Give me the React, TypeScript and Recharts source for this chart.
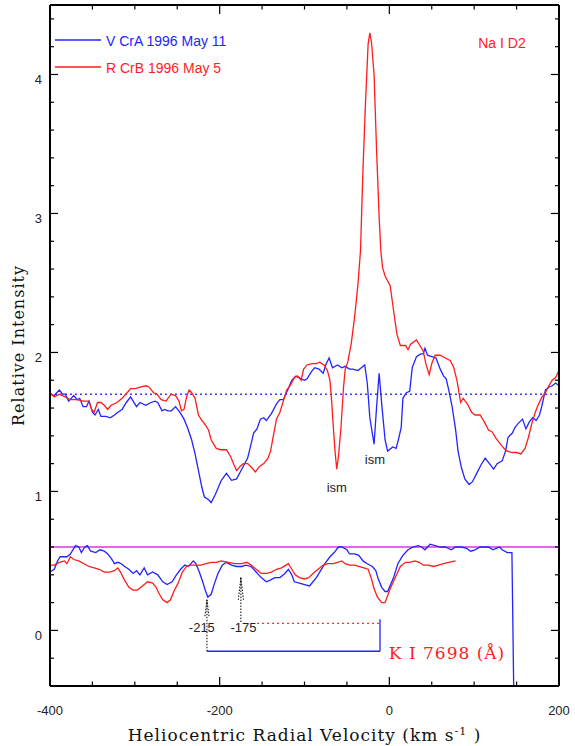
import React from 'react';
import {
  LineChart, Line, XAxis, YAxis, ReferenceLine, ReferenceDot, Legend,
} from 'recharts';

// ---------- data ----------
// Na I D2, V CrA 1996 May 11 (blue)
const naVCrAVel = [-400,-395,-389,-385,-382,-378,-372,-368,-365,-361,-357,-354,-350,-347,-343,-340,-334,-329,-324,-320,-315,-310,-305,-302,-298,-294,-287,-281,-276,-273,-268,-265,-261,-257,-252,-247,-242,-238,-233,-229,-225,-221,-218,-213,-210,-205,-198,-192,-186,-180,-174,-167,-163,-160,-156,-152,-148,-145,-139,-133,-129,-125,-119,-115,-110,-104,-100,-97,-92,-88,-83,-78,-75,-71,-67,-61,-56,-52,-47,-43,-37,-33,-29,-26,-23,-18,-15,-12,-9,-5,-2,4,8,11,14,16,20,24,27,32,37,40,42,45,50,55,60,64,67,70,74,78,81,85,89,94,98,103,108,113,118,123,127,133,137,140,145,148,152,157,161,165,169,173,177,180,184,188,192,196,200];
const naVCrAInt = [1.70,1.69,1.73,1.70,1.70,1.65,1.69,1.66,1.67,1.61,1.61,1.65,1.57,1.55,1.59,1.54,1.54,1.53,1.55,1.57,1.59,1.64,1.68,1.65,1.61,1.64,1.62,1.64,1.65,1.64,1.58,1.59,1.58,1.58,1.61,1.57,1.52,1.46,1.37,1.27,1.15,1.03,0.96,0.94,0.92,0.98,1.08,1.13,1.08,1.09,1.16,1.24,1.34,1.42,1.45,1.52,1.53,1.51,1.56,1.63,1.66,1.66,1.74,1.80,1.83,1.81,1.80,1.81,1.86,1.89,1.88,1.85,1.91,1.96,1.89,1.91,1.89,1.90,1.88,1.88,1.87,1.89,1.91,1.78,1.53,1.34,1.61,1.85,1.63,1.37,1.29,1.32,1.31,1.38,1.46,1.67,1.71,1.72,1.89,1.97,1.99,1.99,2.03,1.98,1.97,1.96,1.88,1.83,1.81,1.73,1.61,1.45,1.29,1.17,1.09,1.05,1.07,1.13,1.19,1.24,1.20,1.16,1.20,1.22,1.29,1.39,1.42,1.46,1.49,1.52,1.45,1.50,1.53,1.51,1.55,1.62,1.73,1.75,1.76,1.78,1.76];

// Na I D2, R CrB 1996 May 5 (red)
const naRCrBVel = [-400,-395,-389,-382,-376,-368,-361,-354,-351,-348,-344,-340,-336,-332,-328,-321,-315,-309,-305,-299,-294,-287,-283,-278,-274,-269,-263,-261,-257,-252,-248,-245,-242,-239,-236,-233,-229,-225,-221,-218,-213,-210,-204,-199,-192,-187,-183,-180,-176,-172,-167,-162,-158,-153,-148,-143,-140,-137,-133,-129,-125,-121,-116,-112,-108,-104,-101,-97,-91,-86,-82,-77,-73,-70,-68,-66,-64,-62,-60,-57,-54,-52,-49,-45,-41,-37,-34,-31,-28,-25,-23,-21,-18,-15,-12,-10,-8,-5,1,5,9,13,19,22,25,32,36,40,43,47,50,54,60,66,72,76,80,84,87,92,97,101,107,112,117,121,126,131,135,139,145,150,155,160,164,168,172,176,180,184,188,192,196,200];
const naRCrBInt = [1.71,1.68,1.70,1.68,1.66,1.66,1.65,1.65,1.59,1.57,1.64,1.64,1.62,1.59,1.62,1.64,1.67,1.71,1.74,1.74,1.75,1.76,1.75,1.71,1.70,1.66,1.65,1.67,1.70,1.69,1.65,1.58,1.59,1.68,1.73,1.71,1.67,1.55,1.51,1.49,1.44,1.37,1.31,1.30,1.30,1.25,1.19,1.15,1.18,1.20,1.20,1.17,1.14,1.18,1.20,1.24,1.29,1.39,1.52,1.57,1.65,1.73,1.77,1.82,1.83,1.80,1.88,1.91,1.92,1.92,1.93,1.91,1.87,1.80,1.65,1.46,1.29,1.16,1.25,1.46,1.75,1.88,1.93,2.06,2.25,2.49,2.73,3.33,3.81,4.22,4.30,4.23,4.00,3.45,2.97,2.73,2.61,2.55,2.48,2.30,2.13,2.05,2.05,2.02,2.06,2.09,2.05,2.01,1.92,1.84,1.92,1.98,1.98,1.96,1.94,1.89,1.79,1.64,1.67,1.63,1.57,1.55,1.55,1.50,1.44,1.43,1.38,1.34,1.31,1.29,1.28,1.28,1.27,1.31,1.39,1.49,1.57,1.63,1.68,1.71,1.76,1.80,1.82,1.87];

// K I 7698, V CrA (blue)
const kVCrAVel = [-400,-395,-391,-388,-380,-376,-370,-366,-363,-359,-356,-352,-346,-341,-336,-332,-328,-324,-320,-316,-312,-307,-302,-298,-294,-289,-285,-279,-273,-267,-262,-256,-251,-246,-241,-237,-231,-228,-224,-220,-217,-214,-210,-206,-202,-197,-192,-186,-180,-174,-169,-163,-157,-151,-145,-141,-135,-129,-123,-119,-115,-112,-106,-100,-94,-90,-86,-81,-76,-70,-65,-60,-56,-50,-47,-41,-36,-31,-26,-20,-16,-13,-9,-5,-2,5,10,16,22,28,34,38,42,48,54,60,66,73,78,85,91,96,101,107,113,117,122,126,130,133,139,144.5,147];
const kVCrAInt = [0.42,0.44,0.50,0.53,0.53,0.55,0.61,0.60,0.56,0.60,0.61,0.57,0.56,0.58,0.57,0.55,0.52,0.48,0.49,0.48,0.46,0.44,0.41,0.43,0.40,0.45,0.40,0.42,0.40,0.35,0.33,0.35,0.40,0.44,0.47,0.46,0.50,0.48,0.42,0.35,0.29,0.24,0.26,0.34,0.41,0.47,0.49,0.47,0.46,0.46,0.47,0.46,0.42,0.38,0.35,0.36,0.38,0.38,0.41,0.44,0.40,0.35,0.34,0.33,0.32,0.35,0.38,0.43,0.48,0.53,0.56,0.60,0.60,0.58,0.55,0.55,0.54,0.50,0.48,0.46,0.43,0.37,0.31,0.28,0.28,0.38,0.48,0.54,0.58,0.60,0.61,0.60,0.58,0.62,0.61,0.60,0.60,0.58,0.60,0.60,0.59,0.57,0.58,0.60,0.60,0.60,0.58,0.59,0.60,0.58,0.56,0.56,-0.6];

// K I 7698, R CrB (red)
const kRCrBVel = [-400,-395,-389,-383,-380,-376,-372,-366,-360,-354,-348,-342,-336,-330,-324,-320,-317,-312,-307,-302,-297,-291,-285,-279,-275,-271,-267,-262,-258,-254,-249,-244,-239,-234,-228,-222,-216,-210,-204,-198,-190,-182,-174,-168,-163,-157,-151,-145,-139,-133,-127,-122,-119,-115,-111,-106,-100,-95,-90,-84,-78,-72,-66,-61,-56,-52,-47,-41,-36,-30,-25,-21,-18,-14,-9,-5,1,7,13,19,24,30,35,40,46,52,58,64,70,78];
const kRCrBInt = [0.47,0.47,0.49,0.50,0.48,0.53,0.51,0.50,0.48,0.46,0.45,0.44,0.42,0.42,0.43,0.45,0.42,0.36,0.31,0.29,0.29,0.32,0.35,0.34,0.31,0.26,0.22,0.20,0.22,0.28,0.34,0.42,0.46,0.47,0.47,0.47,0.48,0.49,0.49,0.50,0.49,0.48,0.48,0.49,0.47,0.44,0.41,0.41,0.42,0.44,0.45,0.47,0.48,0.44,0.40,0.38,0.37,0.38,0.41,0.44,0.47,0.48,0.48,0.49,0.50,0.48,0.47,0.47,0.46,0.45,0.44,0.37,0.30,0.24,0.20,0.20,0.30,0.38,0.46,0.49,0.49,0.50,0.49,0.47,0.47,0.46,0.47,0.48,0.49,0.50];

// axes
const xTicks = [-400,-350,-300,-250,-200,-150,-100,-50,0,50,100,150,200];
const xMajor = [-400,-200,0,200];
const yTicks = Array.from({ length: 25 }, (_, i) => (i - 2) / 5);
const yLabels = [0,1,2,3,4];

const BLUE = '#2323ff';
const RED = '#ff1c1c';
const MAGENTA = '#e466ea';

const legendItems = [
  { name: 'V CrA 1996 May 11', color: BLUE },
  { name: 'R CrB 1996 May 5', color: RED },
];

const zip = (v: number[], y: number[]) => v.map((x, i) => ({ v: x, i: y[i] }));
const naVCrA = zip(naVCrAVel, naVCrAInt);
const naRCrB = zip(naRCrBVel, naRCrBInt);
const kVCrA = zip(kVCrAVel, kVCrAInt);
const kRCrB = zip(kRCrBVel, kRCrBInt);

const SANS = 'Liberation Sans, Arial, Helvetica, sans-serif';
const SERIF = 'DejaVu Serif, serif';

const near = (a: number, list: number[]) => list.some((b) => Math.abs(a - b) < 1e-6);

function BottomTick(p: any) {
  const { x, y, payload } = p;
  const major = near(payload.value, xMajor);
  return (
    <g>
      <line x1={x} x2={x} y1={y} y2={y - (major ? 9 : 4.5)} stroke="#000" strokeWidth={1.2} />
      {major && (
        <text x={x} y={y + 29} textAnchor="middle" fontSize={13} fill="#222" fontFamily={SANS}>
          {String(payload.value)}
        </text>
      )}
    </g>
  );
}
function TopTick(p: any) {
  const { x, y, payload } = p;
  const major = near(payload.value, xMajor);
  return <line x1={x} x2={x} y1={y} y2={y + (major ? 9 : 4.5)} stroke="#000" strokeWidth={1.2} />;
}
function LeftTick(p: any) {
  const { x, y, payload } = p;
  const major = near(payload.value, yLabels);
  return (
    <g>
      <line x1={x} x2={x + (major ? 8 : 4)} y1={y} y2={y} stroke="#000" strokeWidth={1.2} />
      {major && (
        <text x={x - 8} y={y + 10} textAnchor="end" fontSize={13} fill="#222" fontFamily={SANS}>
          {String(Math.round(payload.value))}
        </text>
      )}
    </g>
  );
}
function RightTick(p: any) {
  const { x, y, payload } = p;
  const major = near(payload.value, yLabels);
  return <line x1={x} x2={x - (major ? 8 : 4)} y1={y} y2={y} stroke="#000" strokeWidth={1.2} />;
}

function XLabel(p: any) {
  const vb = p.viewBox;
  return (
    <text x={vb.x + vb.width / 2} y={vb.y + 55} textAnchor="middle" fontSize={17} fill="#111"
      fontFamily={SERIF} letterSpacing={1}>
      Heliocentric Radial Velocity (km s<tspan dy={-6} fontSize={11}>-1</tspan><tspan dy={6}> )</tspan>
    </text>
  );
}
function YLabel(p: any) {
  const vb = p.viewBox;
  const cx = vb.x + vb.width - 32;
  const cy = vb.y + vb.height / 2;
  return (
    <text x={cx} y={cy} transform={`rotate(-90 ${cx} ${cy})`} textAnchor="middle" dominantBaseline="central"
      fontSize={16} fill="#111" fontFamily={SERIF} letterSpacing={1}>
      Relative Intensity
    </text>
  );
}

const annotations = [
  { x: -62, y: 1.03, text: 'ism', color: '#222', size: 13, font: SANS, spacing: 0 },
  { x: -17, y: 1.23, text: 'ism', color: '#222', size: 13, font: SANS, spacing: 0 },
  { x: 132.8, y: 4.225, text: 'Na I D2', color: RED, size: 14, font: SANS, spacing: 0 },
  { x: -221, y: 0.024, text: '-215', color: '#222', size: 13, font: SANS, spacing: 0 },
  { x: -172, y: 0.024, text: '-175', color: '#222', size: 13, font: SANS, spacing: 0 },
  { x: 68, y: -0.165, text: 'K I 7698 (Å)', color: RED, size: 17, font: SERIF, spacing: 1 },
];

function renderLegend() {
  return (
    <div style={{ position: 'relative', width: 200, height: 50, fontFamily: SANS, fontSize: 14 }}>
      {legendItems.map((it, k) => (
        <div key={it.name} style={{ position: 'absolute', left: 0, top: k * 27, height: 16, display: 'flex', alignItems: 'center', whiteSpace: 'nowrap' }}>
          <svg width={46} height={4} style={{ display: 'block' }}>
            <line x1={0} x2={46} y1={2} y2={2} stroke={it.color} strokeWidth={1.3} />
          </svg>
          <span style={{ marginLeft: 5, color: it.color, lineHeight: '16px', position: 'relative', top: 1 }}>{it.name}</span>
        </div>
      ))}
    </div>
  );
}

const dotted = { stroke: '#000', strokeWidth: 1, strokeDasharray: '1.5 1.5' };

export default function App() {
  return (
    <div style={{ position: 'absolute', left: 0, top: 0, width: 575, height: 746, background: '#fff', fontFamily: SANS }}>
      <LineChart width={575} height={746} margin={{ top: 4, right: 15, bottom: 0, left: 49 }}>
        <XAxis dataKey="v" type="number" domain={[-400, 200]} ticks={xTicks} interval={0} allowDataOverflow
          height={60} tickSize={0} tickMargin={0} tickLine={false} tick={<BottomTick />}
          axisLine={{ stroke: '#000', strokeWidth: 2 }} label={<XLabel />} />
        <XAxis xAxisId="top" orientation="top" dataKey="v" type="number" domain={[-400, 200]} ticks={xTicks} interval={0}
          allowDataOverflow height={1} tickSize={0} tickMargin={0} tickLine={false} tick={<TopTick />}
          axisLine={{ stroke: '#000', strokeWidth: 2 }} />
        <YAxis type="number" domain={[-0.4, 4.5]} ticks={yTicks} interval={0} allowDataOverflow width={1}
          tickSize={0} tickMargin={0} tickLine={false} tick={<LeftTick />}
          axisLine={{ stroke: '#000', strokeWidth: 2 }} label={<YLabel />} />
        <YAxis yAxisId="right" orientation="right" type="number" domain={[-0.4, 4.5]} ticks={yTicks} interval={0}
          allowDataOverflow width={1} tickSize={0} tickMargin={0} tickLine={false} tick={<RightTick />}
          axisLine={{ stroke: '#000', strokeWidth: 2 }} />

        <ReferenceLine y={1.7} stroke="#3c3cff" strokeWidth={1.5} strokeDasharray="2 3" />
        <ReferenceLine y={0.6} stroke={MAGENTA} strokeWidth={2} />

        <ReferenceLine segment={[{ x: -215, y: -0.15 }, { x: -11, y: -0.15 }]} stroke={BLUE} strokeWidth={1.3} />
        <ReferenceLine segment={[{ x: -11, y: -0.15 }, { x: -11, y: 0.08 }]} stroke={BLUE} strokeWidth={1.3} />
        <ReferenceLine segment={[{ x: -156, y: 0.05 }, { x: -11, y: 0.05 }]} stroke="#ff3030" strokeWidth={1.2} strokeDasharray="2 3" />
        <ReferenceLine segment={[{ x: -215, y: -0.15 }, { x: -215, y: 0.22 }]} {...dotted} />
        <ReferenceLine segment={[{ x: -215, y: 0.22 }, { x: -217.5, y: 0.1 }]} {...dotted} />
        <ReferenceLine segment={[{ x: -215, y: 0.22 }, { x: -212.5, y: 0.1 }]} {...dotted} />
        <ReferenceLine segment={[{ x: -175, y: 0.06 }, { x: -175, y: 0.38 }]} {...dotted} />
        <ReferenceLine segment={[{ x: -175, y: 0.38 }, { x: -178, y: 0.22 }]} {...dotted} />
        <ReferenceLine segment={[{ x: -175, y: 0.38 }, { x: -172, y: 0.22 }]} {...dotted} />

        <Line data={naVCrA} dataKey="i" type="linear" stroke={BLUE} strokeWidth={1.3} dot={false} isAnimationActive={false} />
        <Line data={naRCrB} dataKey="i" type="linear" stroke={RED} strokeWidth={1.3} dot={false} isAnimationActive={false} />
        <Line data={kVCrA} dataKey="i" type="linear" stroke={BLUE} strokeWidth={1.3} dot={false} isAnimationActive={false} />
        <Line data={kRCrB} dataKey="i" type="linear" stroke={RED} strokeWidth={1.3} dot={false} isAnimationActive={false} />

        {annotations.map((a) => (
          <ReferenceDot key={a.text + a.x} x={a.x} y={a.y} r={0} fill="none" stroke="none"
            label={{ value: a.text, position: 'center', fill: a.color, fontSize: a.size, fontFamily: a.font, letterSpacing: a.spacing }} />
        ))}

        <Legend layout="vertical" align="center" verticalAlign="middle" content={renderLegend}
          wrapperStyle={{ left: 55, top: 32, width: 200, height: 50 }} />
      </LineChart>
    </div>
  );
}
